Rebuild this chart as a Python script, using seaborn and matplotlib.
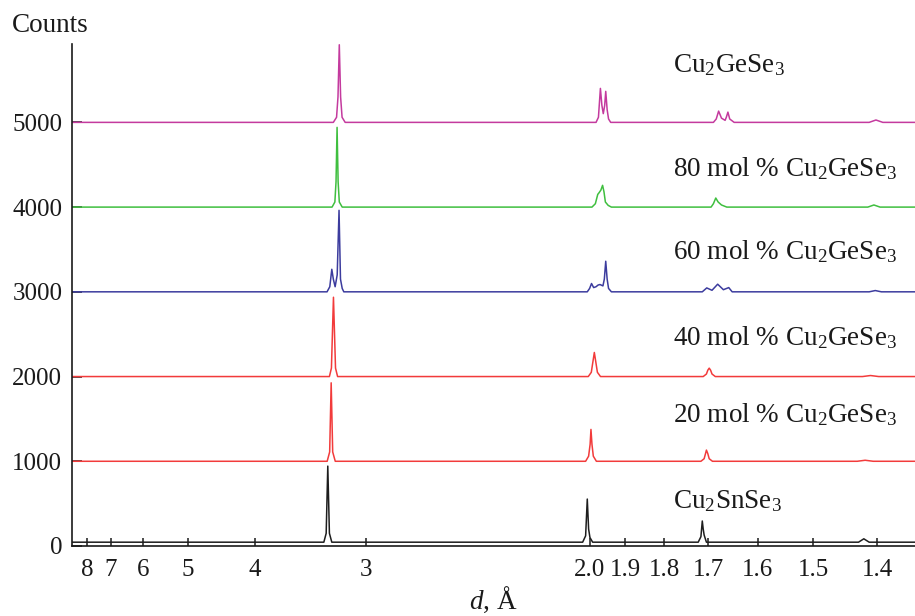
import matplotlib
matplotlib.use("Agg")
import matplotlib.pyplot as plt
import matplotlib.transforms as mtransforms
import seaborn as sns
from matplotlib.ticker import FixedLocator, FixedFormatter, NullLocator

# ---------------- data ----------------
# d-spacing (Angstrom) and counts for each pattern, stacked with offsets already included
d_snse = [8.8, 3.316, 3.297, 3.284, 3.271, 3.252, 2.022, 2.013, 2.008, 2.004, 2.000, 1.992,
          1.722, 1.716, 1.713, 1.711, 1.709, 1.704, 1.428, 1.420, 1.412, 1.34]
c_snse = [45, 45, 150, 943, 150, 45, 45, 120, 554, 200, 100, 45,
          45, 110, 295, 200, 130, 45, 45, 85, 45, 45]

d_20 = [8.8, 3.289, 3.269, 3.257, 3.245, 3.225, 2.013, 2.004, 1.9995, 1.997, 1.994, 1.990, 1.981,
        1.716, 1.709, 1.706, 1.704, 1.701, 1.698, 1.691, 1.430, 1.418, 1.406, 1.34]
c_20 = [1000, 1000, 1110, 1926, 1110, 1000, 1000, 1060, 1200, 1376, 1200, 1060, 1000,
        1000, 1030, 1090, 1132, 1090, 1030, 1000, 1000, 1012, 1000, 1000]

d_40 = [8.8, 3.271, 3.255, 3.239, 3.223, 3.207, 2.005, 1.996, 1.991, 1.987, 1.983, 1.978, 1.969,
        1.711, 1.704, 1.701, 1.698, 1.695, 1.692, 1.685, 1.422, 1.410, 1.398, 1.34]
c_40 = [2000, 2000, 2100, 2936, 2100, 2000, 2000, 2050, 2180, 2284, 2180, 2050, 2000,
        2000, 2030, 2075, 2099, 2075, 2030, 2000, 2000, 2012, 2000, 2000]

d_60 = [8.8, 3.290, 3.268, 3.252, 3.240, 3.226, 3.210, 3.196, 3.185, 3.172, 3.160,
        2.008, 2.001, 1.9953, 1.989, 1.982, 1.976, 1.9705, 1.962, 1.958, 1.954, 1.950, 1.946, 1.938,
        1.713, 1.7033, 1.692, 1.680, 1.668, 1.657, 1.650, 1.412, 1.403, 1.394, 1.34]
c_60 = [3000, 3000, 3060, 3266, 3150, 3060, 3200, 3962, 3150, 3040, 3000,
        3000, 3040, 3098, 3050, 3060, 3080, 3086, 3070, 3150, 3361, 3150, 3040, 3000,
        3000, 3046, 3018, 3090, 3025, 3050, 3000, 3000, 3015, 3000, 3000]

d_80 = [8.8, 3.250, 3.228, 3.219, 3.211, 3.203, 3.194, 3.172,
        1.994, 1.984, 1.977, 1.974, 1.968, 1.963, 1.959, 1.955, 1.947, 1.938,
        1.694, 1.689, 1.684, 1.679, 1.672, 1.661, 1.414, 1.405, 1.396, 1.34]
c_80 = [4000, 4000, 4060, 4300, 4941, 4300, 4060, 4000,
        4000, 4040, 4150, 4165, 4200, 4257, 4180, 4060, 4020, 4000,
        4000, 4040, 4107, 4060, 4025, 4000, 4000, 4025, 4000, 4000]

d_gese = [8.8, 3.240, 3.215, 3.204, 3.194, 3.184, 3.173, 3.150,
          1.982, 1.975, 1.9693, 1.965, 1.961, 1.957, 1.954, 1.950, 1.946, 1.940,
          1.689, 1.683, 1.678, 1.672, 1.6645, 1.662, 1.6587, 1.655, 1.646,
          1.412, 1.402, 1.392, 1.34]
c_gese = [5000, 5000, 5060, 5300, 5916, 5300, 5060, 5000,
          5000, 5060, 5401, 5200, 5103, 5200, 5366, 5150, 5040, 5000,
          5000, 5040, 5133, 5050, 5024, 5060, 5121, 5040, 5000,
          5000, 5028, 5000, 5000]

series_labels = ["Cu$_2$SnSe$_3$", "20 mol % Cu$_2$GeSe$_3$", "40 mol % Cu$_2$GeSe$_3$",
                 "60 mol % Cu$_2$GeSe$_3$", "80 mol % Cu$_2$GeSe$_3$", "Cu$_2$GeSe$_3$"]
label_counts = [530, 1550, 2460, 3480, 4450, 5670]

x_tick_values = [8, 7, 6, 5, 4, 3, 2.0, 1.9, 1.8, 1.7, 1.6, 1.5, 1.4]
x_tick_labels = ["8", "7", "6", "5", "4", "3", "2.0", "1.9", "1.8", "1.7", "1.6", "1.5", "1.4"]
y_tick_values = [0, 1000, 2000, 3000, 4000, 5000]

colors = ["#1e1e1e", "#f23b3b", "#f23b3b", "#3c3c9e", "#3fbf3f", "#c43a9e"]

# ---------------- figure ----------------
sns.set_theme(style="ticks")
plt.rcParams["font.family"] = ["Liberation Serif", "DejaVu Serif"]
plt.rcParams["mathtext.fontset"] = "custom"
plt.rcParams["mathtext.rm"] = "Liberation Serif"
plt.rcParams["mathtext.it"] = "Liberation Serif:italic"

fig = plt.figure(figsize=(9.15, 6.16), dpi=100)
ax = fig.add_axes([72 / 915, 1 - 546 / 616, 1 - 72 / 915, (546 - 44) / 616])

# axis linear in 1/d (monotonic increasing transform: -1/d)
ax.set_xscale("function", functions=(lambda d: -1.0 / d, lambda q: -1.0 / q))

all_d = [d_snse, d_20, d_40, d_60, d_80, d_gese]
all_c = [c_snse, c_20, c_40, c_60, c_80, c_gese]
for dd, cc, col in zip(all_d, all_c, colors):
    sns.lineplot(x=dd, y=cc, ax=ax, color=col, lw=1.1, sort=False, estimator=None)

ax.set_xlim(8.79, 1.347)
ax.set_ylim(0, 5925)

ax.xaxis.set_major_locator(FixedLocator(x_tick_values))
ax.xaxis.set_major_formatter(FixedFormatter(x_tick_labels))
ax.xaxis.set_minor_locator(NullLocator())
ax.set_yticks(y_tick_values)
ax.set_yticklabels([str(v) for v in y_tick_values])

ax.tick_params(axis="x", direction="in", length=6, width=1.1, labelsize=18, pad=9, colors="#1a1a1a")
ax.tick_params(axis="y", direction="in", length=7, width=1.1, labelsize=18, pad=7, colors="#1a1a1a")

for s in ["top", "right"]:
    ax.spines[s].set_visible(False)
for s in ["left", "bottom"]:
    ax.spines[s].set_linewidth(1.2)
    ax.spines[s].set_color("#1a1a1a")

trans = mtransforms.blended_transform_factory(fig.transFigure, ax.transData)
for lab, yv in zip(series_labels, label_counts):
    ax.text(673 / 915, yv, lab, transform=trans, fontsize=19.5,
            ha="left", va="center", color="#1a1a1a")

ax.set_xlabel("$d$, Å", fontsize=19.5, color="#1a1a1a", labelpad=3)
ax.set_ylabel("")
fig.text(12 / 915, 1 - 25 / 616, "Counts", fontsize=19.5, ha="left", va="center", color="#1a1a1a")

fig.savefig("out.png", dpi=100)
